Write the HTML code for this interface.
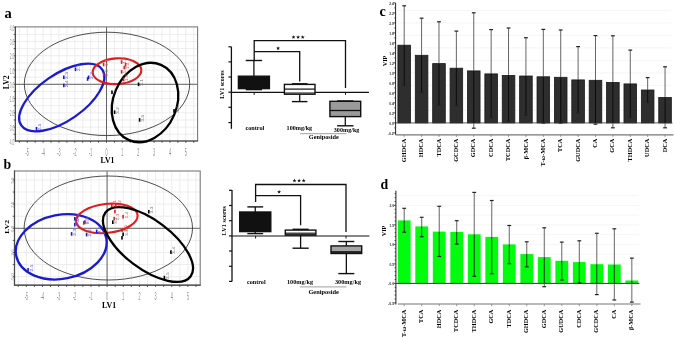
<!DOCTYPE html>
<html><head><meta charset="utf-8"><title>figure</title>
<style>html,body{margin:0;padding:0;background:#fff;width:675px;height:338px;overflow:hidden}
</style></head>
<body>
<svg width="675" height="338" viewBox="0 0 675 338" style="display:block;font-family:'Liberation Serif', serif;will-change:transform">
<rect width="675" height="338" fill="#fff"/>
<text x="4.60" y="17.60" font-size="14.5" font-weight="bold" text-anchor="start" fill="#000">a</text>
<text x="3.60" y="168.80" font-size="13.8" font-weight="bold" text-anchor="start" fill="#000">b</text>
<text x="379.40" y="15.50" font-size="14.2" font-weight="bold" text-anchor="start" fill="#000">c</text>
<text x="380.60" y="189.10" font-size="13.8" font-weight="bold" text-anchor="start" fill="#000">d</text>
<line x1="19.33" y1="26.90" x2="19.33" y2="141.00" stroke="#e8e8e8" stroke-width="0.8"/>
<line x1="27.25" y1="26.90" x2="27.25" y2="141.00" stroke="#e8e8e8" stroke-width="0.8"/>
<line x1="35.17" y1="26.90" x2="35.17" y2="141.00" stroke="#e8e8e8" stroke-width="0.8"/>
<line x1="43.10" y1="26.90" x2="43.10" y2="141.00" stroke="#e8e8e8" stroke-width="0.8"/>
<line x1="51.02" y1="26.90" x2="51.02" y2="141.00" stroke="#e8e8e8" stroke-width="0.8"/>
<line x1="58.95" y1="26.90" x2="58.95" y2="141.00" stroke="#e8e8e8" stroke-width="0.8"/>
<line x1="66.88" y1="26.90" x2="66.88" y2="141.00" stroke="#e8e8e8" stroke-width="0.8"/>
<line x1="74.80" y1="26.90" x2="74.80" y2="141.00" stroke="#e8e8e8" stroke-width="0.8"/>
<line x1="82.72" y1="26.90" x2="82.72" y2="141.00" stroke="#e8e8e8" stroke-width="0.8"/>
<line x1="90.65" y1="26.90" x2="90.65" y2="141.00" stroke="#e8e8e8" stroke-width="0.8"/>
<line x1="98.58" y1="26.90" x2="98.58" y2="141.00" stroke="#e8e8e8" stroke-width="0.8"/>
<line x1="106.50" y1="26.90" x2="106.50" y2="141.00" stroke="#e8e8e8" stroke-width="0.8"/>
<line x1="114.42" y1="26.90" x2="114.42" y2="141.00" stroke="#e8e8e8" stroke-width="0.8"/>
<line x1="122.35" y1="26.90" x2="122.35" y2="141.00" stroke="#e8e8e8" stroke-width="0.8"/>
<line x1="130.28" y1="26.90" x2="130.28" y2="141.00" stroke="#e8e8e8" stroke-width="0.8"/>
<line x1="138.20" y1="26.90" x2="138.20" y2="141.00" stroke="#e8e8e8" stroke-width="0.8"/>
<line x1="146.12" y1="26.90" x2="146.12" y2="141.00" stroke="#e8e8e8" stroke-width="0.8"/>
<line x1="154.05" y1="26.90" x2="154.05" y2="141.00" stroke="#e8e8e8" stroke-width="0.8"/>
<line x1="161.97" y1="26.90" x2="161.97" y2="141.00" stroke="#e8e8e8" stroke-width="0.8"/>
<line x1="169.90" y1="26.90" x2="169.90" y2="141.00" stroke="#e8e8e8" stroke-width="0.8"/>
<line x1="177.82" y1="26.90" x2="177.82" y2="141.00" stroke="#e8e8e8" stroke-width="0.8"/>
<line x1="185.75" y1="26.90" x2="185.75" y2="141.00" stroke="#e8e8e8" stroke-width="0.8"/>
<line x1="193.68" y1="26.90" x2="193.68" y2="141.00" stroke="#e8e8e8" stroke-width="0.8"/>
<line x1="15.40" y1="134.21" x2="197.60" y2="134.21" stroke="#e8e8e8" stroke-width="0.8"/>
<line x1="15.40" y1="127.08" x2="197.60" y2="127.08" stroke="#e8e8e8" stroke-width="0.8"/>
<line x1="15.40" y1="119.95" x2="197.60" y2="119.95" stroke="#e8e8e8" stroke-width="0.8"/>
<line x1="15.40" y1="112.82" x2="197.60" y2="112.82" stroke="#e8e8e8" stroke-width="0.8"/>
<line x1="15.40" y1="105.69" x2="197.60" y2="105.69" stroke="#e8e8e8" stroke-width="0.8"/>
<line x1="15.40" y1="98.56" x2="197.60" y2="98.56" stroke="#e8e8e8" stroke-width="0.8"/>
<line x1="15.40" y1="91.43" x2="197.60" y2="91.43" stroke="#e8e8e8" stroke-width="0.8"/>
<line x1="15.40" y1="84.30" x2="197.60" y2="84.30" stroke="#e8e8e8" stroke-width="0.8"/>
<line x1="15.40" y1="77.17" x2="197.60" y2="77.17" stroke="#e8e8e8" stroke-width="0.8"/>
<line x1="15.40" y1="70.04" x2="197.60" y2="70.04" stroke="#e8e8e8" stroke-width="0.8"/>
<line x1="15.40" y1="62.91" x2="197.60" y2="62.91" stroke="#e8e8e8" stroke-width="0.8"/>
<line x1="15.40" y1="55.78" x2="197.60" y2="55.78" stroke="#e8e8e8" stroke-width="0.8"/>
<line x1="15.40" y1="48.65" x2="197.60" y2="48.65" stroke="#e8e8e8" stroke-width="0.8"/>
<line x1="15.40" y1="41.52" x2="197.60" y2="41.52" stroke="#e8e8e8" stroke-width="0.8"/>
<line x1="15.40" y1="34.39" x2="197.60" y2="34.39" stroke="#e8e8e8" stroke-width="0.8"/>
<line x1="106.50" y1="26.90" x2="106.50" y2="141.00" stroke="#555" stroke-width="0.9"/>
<line x1="15.40" y1="84.30" x2="197.60" y2="84.30" stroke="#555" stroke-width="0.9"/>
<rect x="15.40" y="26.90" width="182.20" height="114.10" fill="none" stroke="#7a7a7a" stroke-width="1.1"/>
<line x1="15.40" y1="26.40" x2="15.40" y2="141.50" stroke="#4a4a4a" stroke-width="1.2"/>
<line x1="14.90" y1="141.00" x2="198.10" y2="141.00" stroke="#4a4a4a" stroke-width="1.2"/>
<line x1="19.33" y1="141.00" x2="19.33" y2="142.80" stroke="#333" stroke-width="0.8"/>
<line x1="27.25" y1="141.00" x2="27.25" y2="142.80" stroke="#333" stroke-width="0.8"/>
<line x1="35.17" y1="141.00" x2="35.17" y2="142.80" stroke="#333" stroke-width="0.8"/>
<line x1="43.10" y1="141.00" x2="43.10" y2="142.80" stroke="#333" stroke-width="0.8"/>
<line x1="51.02" y1="141.00" x2="51.02" y2="142.80" stroke="#333" stroke-width="0.8"/>
<line x1="58.95" y1="141.00" x2="58.95" y2="142.80" stroke="#333" stroke-width="0.8"/>
<line x1="66.88" y1="141.00" x2="66.88" y2="142.80" stroke="#333" stroke-width="0.8"/>
<line x1="74.80" y1="141.00" x2="74.80" y2="142.80" stroke="#333" stroke-width="0.8"/>
<line x1="82.72" y1="141.00" x2="82.72" y2="142.80" stroke="#333" stroke-width="0.8"/>
<line x1="90.65" y1="141.00" x2="90.65" y2="142.80" stroke="#333" stroke-width="0.8"/>
<line x1="98.58" y1="141.00" x2="98.58" y2="142.80" stroke="#333" stroke-width="0.8"/>
<line x1="106.50" y1="141.00" x2="106.50" y2="142.80" stroke="#333" stroke-width="0.8"/>
<line x1="114.42" y1="141.00" x2="114.42" y2="142.80" stroke="#333" stroke-width="0.8"/>
<line x1="122.35" y1="141.00" x2="122.35" y2="142.80" stroke="#333" stroke-width="0.8"/>
<line x1="130.28" y1="141.00" x2="130.28" y2="142.80" stroke="#333" stroke-width="0.8"/>
<line x1="138.20" y1="141.00" x2="138.20" y2="142.80" stroke="#333" stroke-width="0.8"/>
<line x1="146.12" y1="141.00" x2="146.12" y2="142.80" stroke="#333" stroke-width="0.8"/>
<line x1="154.05" y1="141.00" x2="154.05" y2="142.80" stroke="#333" stroke-width="0.8"/>
<line x1="161.97" y1="141.00" x2="161.97" y2="142.80" stroke="#333" stroke-width="0.8"/>
<line x1="169.90" y1="141.00" x2="169.90" y2="142.80" stroke="#333" stroke-width="0.8"/>
<line x1="177.82" y1="141.00" x2="177.82" y2="142.80" stroke="#333" stroke-width="0.8"/>
<line x1="185.75" y1="141.00" x2="185.75" y2="142.80" stroke="#333" stroke-width="0.8"/>
<line x1="193.68" y1="141.00" x2="193.68" y2="142.80" stroke="#333" stroke-width="0.8"/>
<line x1="13.60" y1="134.21" x2="15.40" y2="134.21" stroke="#333" stroke-width="0.8"/>
<line x1="13.60" y1="127.08" x2="15.40" y2="127.08" stroke="#333" stroke-width="0.8"/>
<line x1="13.60" y1="119.95" x2="15.40" y2="119.95" stroke="#333" stroke-width="0.8"/>
<line x1="13.60" y1="112.82" x2="15.40" y2="112.82" stroke="#333" stroke-width="0.8"/>
<line x1="13.60" y1="105.69" x2="15.40" y2="105.69" stroke="#333" stroke-width="0.8"/>
<line x1="13.60" y1="98.56" x2="15.40" y2="98.56" stroke="#333" stroke-width="0.8"/>
<line x1="13.60" y1="91.43" x2="15.40" y2="91.43" stroke="#333" stroke-width="0.8"/>
<line x1="13.60" y1="84.30" x2="15.40" y2="84.30" stroke="#333" stroke-width="0.8"/>
<line x1="13.60" y1="77.17" x2="15.40" y2="77.17" stroke="#333" stroke-width="0.8"/>
<line x1="13.60" y1="70.04" x2="15.40" y2="70.04" stroke="#333" stroke-width="0.8"/>
<line x1="13.60" y1="62.91" x2="15.40" y2="62.91" stroke="#333" stroke-width="0.8"/>
<line x1="13.60" y1="55.78" x2="15.40" y2="55.78" stroke="#333" stroke-width="0.8"/>
<line x1="13.60" y1="48.65" x2="15.40" y2="48.65" stroke="#333" stroke-width="0.8"/>
<line x1="13.60" y1="41.52" x2="15.40" y2="41.52" stroke="#333" stroke-width="0.8"/>
<line x1="13.60" y1="34.39" x2="15.40" y2="34.39" stroke="#333" stroke-width="0.8"/>
<line x1="13.60" y1="27.26" x2="15.40" y2="27.26" stroke="#333" stroke-width="0.8"/>
<text transform="translate(27.25 155.80) scale(0.36 1)" font-size="10.2" text-anchor="middle" fill="#8a8a8a" font-family="'Liberation Sans', sans-serif">-5</text>
<text transform="translate(43.10 155.80) scale(0.36 1)" font-size="10.2" text-anchor="middle" fill="#8a8a8a" font-family="'Liberation Sans', sans-serif">-4</text>
<text transform="translate(58.95 155.80) scale(0.36 1)" font-size="10.2" text-anchor="middle" fill="#8a8a8a" font-family="'Liberation Sans', sans-serif">-3</text>
<text transform="translate(74.80 155.80) scale(0.36 1)" font-size="10.2" text-anchor="middle" fill="#8a8a8a" font-family="'Liberation Sans', sans-serif">-2</text>
<text transform="translate(90.65 155.80) scale(0.36 1)" font-size="10.2" text-anchor="middle" fill="#8a8a8a" font-family="'Liberation Sans', sans-serif">-1</text>
<text transform="translate(106.50 155.80) scale(0.36 1)" font-size="10.2" text-anchor="middle" fill="#8a8a8a" font-family="'Liberation Sans', sans-serif">0</text>
<text transform="translate(122.35 155.80) scale(0.36 1)" font-size="10.2" text-anchor="middle" fill="#8a8a8a" font-family="'Liberation Sans', sans-serif">1</text>
<text transform="translate(138.20 155.80) scale(0.36 1)" font-size="10.2" text-anchor="middle" fill="#8a8a8a" font-family="'Liberation Sans', sans-serif">2</text>
<text transform="translate(154.05 155.80) scale(0.36 1)" font-size="10.2" text-anchor="middle" fill="#8a8a8a" font-family="'Liberation Sans', sans-serif">3</text>
<text transform="translate(169.90 155.80) scale(0.36 1)" font-size="10.2" text-anchor="middle" fill="#8a8a8a" font-family="'Liberation Sans', sans-serif">4</text>
<text transform="translate(185.75 155.80) scale(0.36 1)" font-size="10.2" text-anchor="middle" fill="#8a8a8a" font-family="'Liberation Sans', sans-serif">5</text>
<text transform="translate(14.40 30.86) scale(0.39 1)" font-size="8.4" text-anchor="end" fill="#999" font-family="'Liberation Sans', sans-serif">4.0</text>
<text transform="translate(14.40 45.12) scale(0.39 1)" font-size="8.4" text-anchor="end" fill="#999" font-family="'Liberation Sans', sans-serif">3.0</text>
<text transform="translate(14.40 59.38) scale(0.39 1)" font-size="8.4" text-anchor="end" fill="#999" font-family="'Liberation Sans', sans-serif">2.0</text>
<text transform="translate(14.40 73.64) scale(0.39 1)" font-size="8.4" text-anchor="end" fill="#999" font-family="'Liberation Sans', sans-serif">1.0</text>
<text transform="translate(14.40 87.90) scale(0.39 1)" font-size="8.4" text-anchor="end" fill="#999" font-family="'Liberation Sans', sans-serif">0.0</text>
<text transform="translate(14.40 102.16) scale(0.39 1)" font-size="8.4" text-anchor="end" fill="#999" font-family="'Liberation Sans', sans-serif">-1.0</text>
<text transform="translate(14.40 116.42) scale(0.39 1)" font-size="8.4" text-anchor="end" fill="#999" font-family="'Liberation Sans', sans-serif">-2.0</text>
<text transform="translate(14.40 130.68) scale(0.39 1)" font-size="8.4" text-anchor="end" fill="#999" font-family="'Liberation Sans', sans-serif">-3.0</text>
<text transform="translate(14.40 144.94) scale(0.39 1)" font-size="8.4" text-anchor="end" fill="#999" font-family="'Liberation Sans', sans-serif">-4.0</text>
<ellipse cx="107.00" cy="83.90" rx="82.70" ry="51.70" transform="rotate(0 107.00 83.90)" fill="none" stroke="#3a3a3a" stroke-width="0.9"/>
<ellipse cx="61.80" cy="97.50" rx="49.20" ry="23.20" transform="rotate(-34.6 61.80 97.50)" fill="none" stroke="#1a1ad0" stroke-width="2.3"/>
<ellipse cx="117.00" cy="71.20" rx="24.35" ry="12.85" transform="rotate(-3.0 117.00 71.20)" fill="none" stroke="#e21b1b" stroke-width="2.1"/>
<ellipse cx="145.00" cy="102.50" rx="40.90" ry="31.70" transform="rotate(-67.0 145.00 102.50)" fill="none" stroke="#000" stroke-width="2.3"/>
<text x="107.40" y="162.90" font-size="7.9" font-weight="bold" text-anchor="middle" fill="#000" textLength="13.80" lengthAdjust="spacingAndGlyphs">LV1</text>
<text x="8.60" y="82.30" font-size="7.9" font-weight="bold" text-anchor="middle" fill="#000" transform="rotate(-90 8.60 82.30)" textLength="13.80" lengthAdjust="spacingAndGlyphs">LV2</text>
<rect x="74.70" y="67.50" width="1.60" height="3.60" fill="#1a1ad0" stroke="none" stroke-width="1"/>
<text x="80.10" y="71.10" font-size="4.4" font-weight="normal" text-anchor="start" fill="#5a5ae0" transform="rotate(-90 80.10 71.10)" textLength="7.00" lengthAdjust="spacingAndGlyphs" font-family="'Liberation Sans', sans-serif">2-1</text>
<rect x="63.00" y="75.50" width="1.60" height="3.60" fill="#1a1ad0" stroke="none" stroke-width="1"/>
<text x="68.40" y="79.10" font-size="4.4" font-weight="normal" text-anchor="start" fill="#5a5ae0" transform="rotate(-90 68.40 79.10)" textLength="7.00" lengthAdjust="spacingAndGlyphs" font-family="'Liberation Sans', sans-serif">2-3</text>
<rect x="63.00" y="83.60" width="1.60" height="3.60" fill="#1a1ad0" stroke="none" stroke-width="1"/>
<text x="68.40" y="87.20" font-size="4.4" font-weight="normal" text-anchor="start" fill="#5a5ae0" transform="rotate(-90 68.40 87.20)" textLength="7.00" lengthAdjust="spacingAndGlyphs" font-family="'Liberation Sans', sans-serif">2-4</text>
<rect x="87.80" y="75.50" width="1.60" height="3.60" fill="#1a1ad0" stroke="none" stroke-width="1"/>
<text x="93.20" y="79.10" font-size="4.4" font-weight="normal" text-anchor="start" fill="#5a5ae0" transform="rotate(-90 93.20 79.10)" textLength="7.00" lengthAdjust="spacingAndGlyphs" font-family="'Liberation Sans', sans-serif">2-2</text>
<rect x="86.80" y="77.20" width="1.60" height="3.60" fill="#1a1ad0" stroke="none" stroke-width="1"/>
<rect x="35.70" y="127.00" width="1.60" height="3.60" fill="#1a1ad0" stroke="none" stroke-width="1"/>
<text x="41.10" y="130.60" font-size="4.4" font-weight="normal" text-anchor="start" fill="#5a5ae0" transform="rotate(-90 41.10 130.60)" textLength="7.00" lengthAdjust="spacingAndGlyphs" font-family="'Liberation Sans', sans-serif">2-5</text>
<rect x="102.80" y="62.70" width="1.60" height="3.60" fill="#e21b1b" stroke="none" stroke-width="1"/>
<text x="108.20" y="66.30" font-size="4.4" font-weight="normal" text-anchor="start" fill="#e86060" transform="rotate(-90 108.20 66.30)" textLength="7.00" lengthAdjust="spacingAndGlyphs" font-family="'Liberation Sans', sans-serif">1-1</text>
<rect x="102.80" y="72.80" width="1.60" height="3.60" fill="#e21b1b" stroke="none" stroke-width="1"/>
<text x="108.20" y="76.40" font-size="4.4" font-weight="normal" text-anchor="start" fill="#e86060" transform="rotate(-90 108.20 76.40)" textLength="7.00" lengthAdjust="spacingAndGlyphs" font-family="'Liberation Sans', sans-serif">1-2</text>
<rect x="120.80" y="60.20" width="1.60" height="3.60" fill="#e21b1b" stroke="none" stroke-width="1"/>
<text x="126.20" y="63.80" font-size="4.4" font-weight="normal" text-anchor="start" fill="#e86060" transform="rotate(-90 126.20 63.80)" textLength="7.00" lengthAdjust="spacingAndGlyphs" font-family="'Liberation Sans', sans-serif">1-3</text>
<rect x="123.50" y="65.70" width="1.60" height="3.60" fill="#e21b1b" stroke="none" stroke-width="1"/>
<text x="128.90" y="69.30" font-size="4.4" font-weight="normal" text-anchor="start" fill="#e86060" transform="rotate(-90 128.90 69.30)" textLength="7.00" lengthAdjust="spacingAndGlyphs" font-family="'Liberation Sans', sans-serif">1-4</text>
<rect x="120.80" y="70.00" width="1.60" height="3.60" fill="#e21b1b" stroke="none" stroke-width="1"/>
<text x="126.20" y="73.60" font-size="4.4" font-weight="normal" text-anchor="start" fill="#e86060" transform="rotate(-90 126.20 73.60)" textLength="7.00" lengthAdjust="spacingAndGlyphs" font-family="'Liberation Sans', sans-serif">1-5</text>
<rect x="124.80" y="63.00" width="1.60" height="3.60" fill="#e21b1b" stroke="none" stroke-width="1"/>
<rect x="122.80" y="77.70" width="1.60" height="3.60" fill="#e21b1b" stroke="none" stroke-width="1"/>
<text x="128.20" y="81.30" font-size="4.4" font-weight="normal" text-anchor="start" fill="#e86060" transform="rotate(-90 128.20 81.30)" textLength="7.00" lengthAdjust="spacingAndGlyphs" font-family="'Liberation Sans', sans-serif">1-6</text>
<rect x="137.80" y="82.50" width="1.60" height="3.60" fill="#000" stroke="none" stroke-width="1"/>
<text x="143.20" y="86.10" font-size="4.4" font-weight="normal" text-anchor="start" fill="#777" transform="rotate(-90 143.20 86.10)" textLength="7.00" lengthAdjust="spacingAndGlyphs" font-family="'Liberation Sans', sans-serif">3-1</text>
<rect x="111.20" y="90.50" width="1.60" height="3.60" fill="#000" stroke="none" stroke-width="1"/>
<rect x="113.80" y="110.40" width="1.60" height="3.60" fill="#000" stroke="none" stroke-width="1"/>
<text x="119.20" y="114.00" font-size="4.4" font-weight="normal" text-anchor="start" fill="#777" transform="rotate(-90 119.20 114.00)" textLength="7.00" lengthAdjust="spacingAndGlyphs" font-family="'Liberation Sans', sans-serif">3-2</text>
<rect x="138.80" y="118.10" width="1.60" height="3.60" fill="#000" stroke="none" stroke-width="1"/>
<text x="144.20" y="121.70" font-size="4.4" font-weight="normal" text-anchor="start" fill="#777" transform="rotate(-90 144.20 121.70)" textLength="7.00" lengthAdjust="spacingAndGlyphs" font-family="'Liberation Sans', sans-serif">3-5</text>
<rect x="173.20" y="109.10" width="1.60" height="3.60" fill="#000" stroke="none" stroke-width="1"/>
<text x="178.60" y="112.70" font-size="4.4" font-weight="normal" text-anchor="start" fill="#777" transform="rotate(-90 178.60 112.70)" textLength="7.00" lengthAdjust="spacingAndGlyphs" font-family="'Liberation Sans', sans-serif">3-4</text>
<line x1="18.22" y1="171.00" x2="18.22" y2="285.20" stroke="#e8e8e8" stroke-width="0.8"/>
<line x1="26.30" y1="171.00" x2="26.30" y2="285.20" stroke="#e8e8e8" stroke-width="0.8"/>
<line x1="34.38" y1="171.00" x2="34.38" y2="285.20" stroke="#e8e8e8" stroke-width="0.8"/>
<line x1="42.46" y1="171.00" x2="42.46" y2="285.20" stroke="#e8e8e8" stroke-width="0.8"/>
<line x1="50.54" y1="171.00" x2="50.54" y2="285.20" stroke="#e8e8e8" stroke-width="0.8"/>
<line x1="58.62" y1="171.00" x2="58.62" y2="285.20" stroke="#e8e8e8" stroke-width="0.8"/>
<line x1="66.70" y1="171.00" x2="66.70" y2="285.20" stroke="#e8e8e8" stroke-width="0.8"/>
<line x1="74.78" y1="171.00" x2="74.78" y2="285.20" stroke="#e8e8e8" stroke-width="0.8"/>
<line x1="82.86" y1="171.00" x2="82.86" y2="285.20" stroke="#e8e8e8" stroke-width="0.8"/>
<line x1="90.94" y1="171.00" x2="90.94" y2="285.20" stroke="#e8e8e8" stroke-width="0.8"/>
<line x1="99.02" y1="171.00" x2="99.02" y2="285.20" stroke="#e8e8e8" stroke-width="0.8"/>
<line x1="107.10" y1="171.00" x2="107.10" y2="285.20" stroke="#e8e8e8" stroke-width="0.8"/>
<line x1="115.18" y1="171.00" x2="115.18" y2="285.20" stroke="#e8e8e8" stroke-width="0.8"/>
<line x1="123.26" y1="171.00" x2="123.26" y2="285.20" stroke="#e8e8e8" stroke-width="0.8"/>
<line x1="131.34" y1="171.00" x2="131.34" y2="285.20" stroke="#e8e8e8" stroke-width="0.8"/>
<line x1="139.42" y1="171.00" x2="139.42" y2="285.20" stroke="#e8e8e8" stroke-width="0.8"/>
<line x1="147.50" y1="171.00" x2="147.50" y2="285.20" stroke="#e8e8e8" stroke-width="0.8"/>
<line x1="155.58" y1="171.00" x2="155.58" y2="285.20" stroke="#e8e8e8" stroke-width="0.8"/>
<line x1="163.66" y1="171.00" x2="163.66" y2="285.20" stroke="#e8e8e8" stroke-width="0.8"/>
<line x1="171.74" y1="171.00" x2="171.74" y2="285.20" stroke="#e8e8e8" stroke-width="0.8"/>
<line x1="179.82" y1="171.00" x2="179.82" y2="285.20" stroke="#e8e8e8" stroke-width="0.8"/>
<line x1="187.90" y1="171.00" x2="187.90" y2="285.20" stroke="#e8e8e8" stroke-width="0.8"/>
<line x1="195.98" y1="171.00" x2="195.98" y2="285.20" stroke="#e8e8e8" stroke-width="0.8"/>
<line x1="14.50" y1="276.65" x2="200.20" y2="276.65" stroke="#e8e8e8" stroke-width="0.8"/>
<line x1="14.50" y1="264.56" x2="200.20" y2="264.56" stroke="#e8e8e8" stroke-width="0.8"/>
<line x1="14.50" y1="252.48" x2="200.20" y2="252.48" stroke="#e8e8e8" stroke-width="0.8"/>
<line x1="14.50" y1="240.39" x2="200.20" y2="240.39" stroke="#e8e8e8" stroke-width="0.8"/>
<line x1="14.50" y1="228.30" x2="200.20" y2="228.30" stroke="#e8e8e8" stroke-width="0.8"/>
<line x1="14.50" y1="216.21" x2="200.20" y2="216.21" stroke="#e8e8e8" stroke-width="0.8"/>
<line x1="14.50" y1="204.12" x2="200.20" y2="204.12" stroke="#e8e8e8" stroke-width="0.8"/>
<line x1="14.50" y1="192.04" x2="200.20" y2="192.04" stroke="#e8e8e8" stroke-width="0.8"/>
<line x1="14.50" y1="179.95" x2="200.20" y2="179.95" stroke="#e8e8e8" stroke-width="0.8"/>
<line x1="107.10" y1="171.00" x2="107.10" y2="285.20" stroke="#555" stroke-width="0.9"/>
<line x1="14.50" y1="228.30" x2="200.20" y2="228.30" stroke="#555" stroke-width="0.9"/>
<rect x="14.50" y="171.00" width="185.70" height="114.20" fill="none" stroke="#7a7a7a" stroke-width="1.1"/>
<line x1="14.50" y1="170.50" x2="14.50" y2="285.70" stroke="#4a4a4a" stroke-width="1.2"/>
<line x1="14.00" y1="285.20" x2="200.70" y2="285.20" stroke="#4a4a4a" stroke-width="1.2"/>
<line x1="18.22" y1="285.20" x2="18.22" y2="287.00" stroke="#333" stroke-width="0.8"/>
<line x1="26.30" y1="285.20" x2="26.30" y2="287.00" stroke="#333" stroke-width="0.8"/>
<line x1="34.38" y1="285.20" x2="34.38" y2="287.00" stroke="#333" stroke-width="0.8"/>
<line x1="42.46" y1="285.20" x2="42.46" y2="287.00" stroke="#333" stroke-width="0.8"/>
<line x1="50.54" y1="285.20" x2="50.54" y2="287.00" stroke="#333" stroke-width="0.8"/>
<line x1="58.62" y1="285.20" x2="58.62" y2="287.00" stroke="#333" stroke-width="0.8"/>
<line x1="66.70" y1="285.20" x2="66.70" y2="287.00" stroke="#333" stroke-width="0.8"/>
<line x1="74.78" y1="285.20" x2="74.78" y2="287.00" stroke="#333" stroke-width="0.8"/>
<line x1="82.86" y1="285.20" x2="82.86" y2="287.00" stroke="#333" stroke-width="0.8"/>
<line x1="90.94" y1="285.20" x2="90.94" y2="287.00" stroke="#333" stroke-width="0.8"/>
<line x1="99.02" y1="285.20" x2="99.02" y2="287.00" stroke="#333" stroke-width="0.8"/>
<line x1="107.10" y1="285.20" x2="107.10" y2="287.00" stroke="#333" stroke-width="0.8"/>
<line x1="115.18" y1="285.20" x2="115.18" y2="287.00" stroke="#333" stroke-width="0.8"/>
<line x1="123.26" y1="285.20" x2="123.26" y2="287.00" stroke="#333" stroke-width="0.8"/>
<line x1="131.34" y1="285.20" x2="131.34" y2="287.00" stroke="#333" stroke-width="0.8"/>
<line x1="139.42" y1="285.20" x2="139.42" y2="287.00" stroke="#333" stroke-width="0.8"/>
<line x1="147.50" y1="285.20" x2="147.50" y2="287.00" stroke="#333" stroke-width="0.8"/>
<line x1="155.58" y1="285.20" x2="155.58" y2="287.00" stroke="#333" stroke-width="0.8"/>
<line x1="163.66" y1="285.20" x2="163.66" y2="287.00" stroke="#333" stroke-width="0.8"/>
<line x1="171.74" y1="285.20" x2="171.74" y2="287.00" stroke="#333" stroke-width="0.8"/>
<line x1="179.82" y1="285.20" x2="179.82" y2="287.00" stroke="#333" stroke-width="0.8"/>
<line x1="187.90" y1="285.20" x2="187.90" y2="287.00" stroke="#333" stroke-width="0.8"/>
<line x1="195.98" y1="285.20" x2="195.98" y2="287.00" stroke="#333" stroke-width="0.8"/>
<line x1="12.70" y1="276.65" x2="14.50" y2="276.65" stroke="#333" stroke-width="0.8"/>
<line x1="12.70" y1="264.56" x2="14.50" y2="264.56" stroke="#333" stroke-width="0.8"/>
<line x1="12.70" y1="252.48" x2="14.50" y2="252.48" stroke="#333" stroke-width="0.8"/>
<line x1="12.70" y1="240.39" x2="14.50" y2="240.39" stroke="#333" stroke-width="0.8"/>
<line x1="12.70" y1="228.30" x2="14.50" y2="228.30" stroke="#333" stroke-width="0.8"/>
<line x1="12.70" y1="216.21" x2="14.50" y2="216.21" stroke="#333" stroke-width="0.8"/>
<line x1="12.70" y1="204.12" x2="14.50" y2="204.12" stroke="#333" stroke-width="0.8"/>
<line x1="12.70" y1="192.04" x2="14.50" y2="192.04" stroke="#333" stroke-width="0.8"/>
<line x1="12.70" y1="179.95" x2="14.50" y2="179.95" stroke="#333" stroke-width="0.8"/>
<text transform="translate(26.30 299.90) scale(0.36 1)" font-size="10.2" text-anchor="middle" fill="#8a8a8a" font-family="'Liberation Sans', sans-serif">-5</text>
<text transform="translate(42.46 299.90) scale(0.36 1)" font-size="10.2" text-anchor="middle" fill="#8a8a8a" font-family="'Liberation Sans', sans-serif">-4</text>
<text transform="translate(58.62 299.90) scale(0.36 1)" font-size="10.2" text-anchor="middle" fill="#8a8a8a" font-family="'Liberation Sans', sans-serif">-3</text>
<text transform="translate(74.78 299.90) scale(0.36 1)" font-size="10.2" text-anchor="middle" fill="#8a8a8a" font-family="'Liberation Sans', sans-serif">-2</text>
<text transform="translate(90.94 299.90) scale(0.36 1)" font-size="10.2" text-anchor="middle" fill="#8a8a8a" font-family="'Liberation Sans', sans-serif">-1</text>
<text transform="translate(107.10 299.90) scale(0.36 1)" font-size="10.2" text-anchor="middle" fill="#8a8a8a" font-family="'Liberation Sans', sans-serif">0</text>
<text transform="translate(123.26 299.90) scale(0.36 1)" font-size="10.2" text-anchor="middle" fill="#8a8a8a" font-family="'Liberation Sans', sans-serif">1</text>
<text transform="translate(139.42 299.90) scale(0.36 1)" font-size="10.2" text-anchor="middle" fill="#8a8a8a" font-family="'Liberation Sans', sans-serif">2</text>
<text transform="translate(155.58 299.90) scale(0.36 1)" font-size="10.2" text-anchor="middle" fill="#8a8a8a" font-family="'Liberation Sans', sans-serif">3</text>
<text transform="translate(171.74 299.90) scale(0.36 1)" font-size="10.2" text-anchor="middle" fill="#8a8a8a" font-family="'Liberation Sans', sans-serif">4</text>
<text transform="translate(187.90 299.90) scale(0.36 1)" font-size="10.2" text-anchor="middle" fill="#8a8a8a" font-family="'Liberation Sans', sans-serif">5</text>
<text x="13.90" y="180.55" font-size="4.0" font-weight="normal" text-anchor="middle" fill="#888" transform="rotate(-90 13.90 180.55)" textLength="6.00" lengthAdjust="spacingAndGlyphs" font-family="'Liberation Sans', sans-serif">5.0</text>
<text x="13.90" y="204.72" font-size="4.0" font-weight="normal" text-anchor="middle" fill="#888" transform="rotate(-90 13.90 204.72)" textLength="6.00" lengthAdjust="spacingAndGlyphs" font-family="'Liberation Sans', sans-serif">2.5</text>
<text x="13.90" y="228.90" font-size="4.0" font-weight="normal" text-anchor="middle" fill="#888" transform="rotate(-90 13.90 228.90)" textLength="6.00" lengthAdjust="spacingAndGlyphs" font-family="'Liberation Sans', sans-serif">0.0</text>
<text x="13.90" y="253.08" font-size="4.0" font-weight="normal" text-anchor="middle" fill="#888" transform="rotate(-90 13.90 253.08)" textLength="8.00" lengthAdjust="spacingAndGlyphs" font-family="'Liberation Sans', sans-serif">-2.5</text>
<text x="13.90" y="277.25" font-size="4.0" font-weight="normal" text-anchor="middle" fill="#888" transform="rotate(-90 13.90 277.25)" textLength="8.00" lengthAdjust="spacingAndGlyphs" font-family="'Liberation Sans', sans-serif">-5.0</text>
<ellipse cx="108.30" cy="228.00" rx="84.20" ry="52.00" transform="rotate(0 108.30 228.00)" fill="none" stroke="#3a3a3a" stroke-width="0.9"/>
<ellipse cx="61.20" cy="246.80" rx="45.90" ry="32.00" transform="rotate(-11.3 61.20 246.80)" fill="none" stroke="#1a1ad0" stroke-width="2.3"/>
<ellipse cx="106.85" cy="218.40" rx="30.90" ry="14.50" transform="rotate(-6.2 106.85 218.40)" fill="none" stroke="#e21b1b" stroke-width="2.1"/>
<ellipse cx="148.00" cy="244.50" rx="53.20" ry="24.30" transform="rotate(36.9 148.00 244.50)" fill="none" stroke="#000" stroke-width="2.3"/>
<text x="109.00" y="308.30" font-size="7.4" font-weight="bold" text-anchor="middle" fill="#000" textLength="14.20" lengthAdjust="spacingAndGlyphs">LV1</text>
<text x="8.90" y="226.90" font-size="7.0" font-weight="bold" text-anchor="middle" fill="#000" transform="rotate(-90 8.90 226.90)" textLength="13.70" lengthAdjust="spacingAndGlyphs">LV2</text>
<rect x="74.00" y="217.00" width="1.60" height="3.60" fill="#1a1ad0" stroke="none" stroke-width="1"/>
<text x="79.40" y="220.60" font-size="4.4" font-weight="normal" text-anchor="start" fill="#5a5ae0" transform="rotate(-90 79.40 220.60)" textLength="7.00" lengthAdjust="spacingAndGlyphs" font-family="'Liberation Sans', sans-serif">2-1</text>
<rect x="74.00" y="222.80" width="1.60" height="3.60" fill="#1a1ad0" stroke="none" stroke-width="1"/>
<text x="79.40" y="226.40" font-size="4.4" font-weight="normal" text-anchor="start" fill="#5a5ae0" transform="rotate(-90 79.40 226.40)" textLength="7.00" lengthAdjust="spacingAndGlyphs" font-family="'Liberation Sans', sans-serif">2-2</text>
<rect x="70.80" y="232.10" width="1.60" height="3.60" fill="#1a1ad0" stroke="none" stroke-width="1"/>
<text x="76.20" y="235.70" font-size="4.4" font-weight="normal" text-anchor="start" fill="#5a5ae0" transform="rotate(-90 76.20 235.70)" textLength="7.00" lengthAdjust="spacingAndGlyphs" font-family="'Liberation Sans', sans-serif">2-3</text>
<rect x="84.10" y="220.30" width="1.60" height="3.60" fill="#1a1ad0" stroke="none" stroke-width="1"/>
<text x="89.50" y="223.90" font-size="4.4" font-weight="normal" text-anchor="start" fill="#5a5ae0" transform="rotate(-90 89.50 223.90)" textLength="7.00" lengthAdjust="spacingAndGlyphs" font-family="'Liberation Sans', sans-serif">2-4</text>
<rect x="85.80" y="232.80" width="1.60" height="3.60" fill="#1a1ad0" stroke="none" stroke-width="1"/>
<text x="91.20" y="236.40" font-size="4.4" font-weight="normal" text-anchor="start" fill="#5a5ae0" transform="rotate(-90 91.20 236.40)" textLength="7.00" lengthAdjust="spacingAndGlyphs" font-family="'Liberation Sans', sans-serif">2-6</text>
<rect x="27.30" y="268.00" width="1.60" height="3.60" fill="#1a1ad0" stroke="none" stroke-width="1"/>
<text x="32.70" y="271.60" font-size="4.4" font-weight="normal" text-anchor="start" fill="#5a5ae0" transform="rotate(-90 32.70 271.60)" textLength="7.00" lengthAdjust="spacingAndGlyphs" font-family="'Liberation Sans', sans-serif">2-5</text>
<rect x="95.90" y="229.60" width="1.60" height="3.60" fill="#1a1ad0" stroke="none" stroke-width="1"/>
<text x="101.30" y="233.20" font-size="4.4" font-weight="normal" text-anchor="start" fill="#5a5ae0" transform="rotate(-90 101.30 233.20)" textLength="7.00" lengthAdjust="spacingAndGlyphs" font-family="'Liberation Sans', sans-serif">2-7</text>
<rect x="111.00" y="203.40" width="1.60" height="3.60" fill="#e21b1b" stroke="none" stroke-width="1"/>
<text x="116.40" y="207.00" font-size="4.4" font-weight="normal" text-anchor="start" fill="#e86060" transform="rotate(-90 116.40 207.00)" textLength="7.00" lengthAdjust="spacingAndGlyphs" font-family="'Liberation Sans', sans-serif">1-1</text>
<rect x="115.10" y="203.40" width="1.60" height="3.60" fill="#e21b1b" stroke="none" stroke-width="1"/>
<text x="120.50" y="207.00" font-size="4.4" font-weight="normal" text-anchor="start" fill="#e86060" transform="rotate(-90 120.50 207.00)" textLength="7.00" lengthAdjust="spacingAndGlyphs" font-family="'Liberation Sans', sans-serif">1-2</text>
<rect x="114.10" y="209.70" width="1.60" height="3.60" fill="#e21b1b" stroke="none" stroke-width="1"/>
<rect x="113.40" y="216.90" width="1.60" height="3.60" fill="#e21b1b" stroke="none" stroke-width="1"/>
<text x="118.80" y="220.50" font-size="4.4" font-weight="normal" text-anchor="start" fill="#e86060" transform="rotate(-90 118.80 220.50)" textLength="7.00" lengthAdjust="spacingAndGlyphs" font-family="'Liberation Sans', sans-serif">1-3</text>
<rect x="122.30" y="214.90" width="1.60" height="3.60" fill="#e21b1b" stroke="none" stroke-width="1"/>
<text x="127.70" y="218.50" font-size="4.4" font-weight="normal" text-anchor="start" fill="#e86060" transform="rotate(-90 127.70 218.50)" textLength="7.00" lengthAdjust="spacingAndGlyphs" font-family="'Liberation Sans', sans-serif">1-4</text>
<rect x="83.00" y="221.10" width="1.60" height="3.60" fill="#e21b1b" stroke="none" stroke-width="1"/>
<text x="88.40" y="224.70" font-size="4.4" font-weight="normal" text-anchor="start" fill="#e86060" transform="rotate(-90 88.40 224.70)" textLength="7.00" lengthAdjust="spacingAndGlyphs" font-family="'Liberation Sans', sans-serif">1-6</text>
<rect x="121.30" y="228.30" width="1.60" height="3.60" fill="#e21b1b" stroke="none" stroke-width="1"/>
<text x="126.70" y="231.90" font-size="4.4" font-weight="normal" text-anchor="start" fill="#e86060" transform="rotate(-90 126.70 231.90)" textLength="7.00" lengthAdjust="spacingAndGlyphs" font-family="'Liberation Sans', sans-serif">1-5</text>
<rect x="112.00" y="220.40" width="1.60" height="3.60" fill="#000" stroke="none" stroke-width="1"/>
<text x="117.40" y="224.00" font-size="4.4" font-weight="normal" text-anchor="start" fill="#777" transform="rotate(-90 117.40 224.00)" textLength="7.00" lengthAdjust="spacingAndGlyphs" font-family="'Liberation Sans', sans-serif">3-1</text>
<rect x="122.30" y="232.50" width="1.60" height="3.60" fill="#000" stroke="none" stroke-width="1"/>
<text x="127.70" y="236.10" font-size="4.4" font-weight="normal" text-anchor="start" fill="#777" transform="rotate(-90 127.70 236.10)" textLength="7.00" lengthAdjust="spacingAndGlyphs" font-family="'Liberation Sans', sans-serif">3-2</text>
<rect x="148.00" y="209.90" width="1.60" height="3.60" fill="#000" stroke="none" stroke-width="1"/>
<text x="153.40" y="213.50" font-size="4.4" font-weight="normal" text-anchor="start" fill="#777" transform="rotate(-90 153.40 213.50)" textLength="7.00" lengthAdjust="spacingAndGlyphs" font-family="'Liberation Sans', sans-serif">3-3</text>
<rect x="170.10" y="250.30" width="1.60" height="3.60" fill="#000" stroke="none" stroke-width="1"/>
<text x="175.50" y="253.90" font-size="4.4" font-weight="normal" text-anchor="start" fill="#777" transform="rotate(-90 175.50 253.90)" textLength="7.00" lengthAdjust="spacingAndGlyphs" font-family="'Liberation Sans', sans-serif">3-4</text>
<rect x="163.60" y="275.80" width="1.60" height="3.60" fill="#000" stroke="none" stroke-width="1"/>
<text x="169.00" y="279.40" font-size="4.4" font-weight="normal" text-anchor="start" fill="#777" transform="rotate(-90 169.00 279.40)" textLength="7.00" lengthAdjust="spacingAndGlyphs" font-family="'Liberation Sans', sans-serif">3-5</text>
<rect x="121.20" y="236.00" width="1.60" height="3.60" fill="#000" stroke="none" stroke-width="1"/>
<line x1="231.40" y1="46.80" x2="231.40" y2="128.80" stroke="#111" stroke-width="1.3"/>
<line x1="228.40" y1="46.80" x2="231.40" y2="46.80" stroke="#111" stroke-width="1.2"/>
<line x1="228.40" y1="61.90" x2="231.40" y2="61.90" stroke="#111" stroke-width="1.2"/>
<line x1="228.40" y1="77.00" x2="231.40" y2="77.00" stroke="#111" stroke-width="1.2"/>
<line x1="228.40" y1="92.20" x2="231.40" y2="92.20" stroke="#111" stroke-width="1.2"/>
<line x1="228.40" y1="107.30" x2="231.40" y2="107.30" stroke="#111" stroke-width="1.2"/>
<line x1="228.40" y1="122.60" x2="231.40" y2="122.60" stroke="#111" stroke-width="1.2"/>
<line x1="231.40" y1="92.30" x2="369.00" y2="92.30" stroke="#111" stroke-width="1.2"/>
<text x="224.40" y="84.60" font-size="6" font-weight="bold" text-anchor="middle" fill="#000" transform="rotate(-90 224.40 84.60)" textLength="28.40" lengthAdjust="spacingAndGlyphs">LV1 scores</text>
<line x1="253.90" y1="60.50" x2="253.90" y2="76.20" stroke="#111" stroke-width="1.3"/>
<line x1="253.90" y1="88.60" x2="253.90" y2="89.60" stroke="#111" stroke-width="1.3"/>
<line x1="245.70" y1="60.50" x2="262.10" y2="60.50" stroke="#111" stroke-width="1.4"/>
<line x1="245.70" y1="89.60" x2="262.10" y2="89.60" stroke="#111" stroke-width="1.4"/>
<rect x="238.40" y="76.20" width="31.00" height="12.40" fill="#111" stroke="none" stroke-width="1.4"/>
<rect x="238.40" y="76.20" width="31.00" height="12.40" fill="none" stroke="#111" stroke-width="1.4"/>
<line x1="299.70" y1="83.80" x2="299.70" y2="84.40" stroke="#111" stroke-width="1.3"/>
<line x1="299.70" y1="94.20" x2="299.70" y2="101.60" stroke="#111" stroke-width="1.3"/>
<line x1="291.90" y1="83.80" x2="307.50" y2="83.80" stroke="#111" stroke-width="1.4"/>
<line x1="291.90" y1="101.60" x2="307.50" y2="101.60" stroke="#111" stroke-width="1.4"/>
<rect x="284.40" y="84.40" width="30.60" height="9.80" fill="#fff" stroke="none" stroke-width="1.4"/>
<rect x="284.40" y="92.00" width="30.60" height="2.20" fill="#8a8a8a" stroke="none" stroke-width="1"/>
<line x1="284.40" y1="89.10" x2="315.00" y2="89.10" stroke="#111" stroke-width="1.2"/>
<rect x="284.40" y="84.40" width="30.60" height="9.80" fill="none" stroke="#111" stroke-width="1.4"/>
<line x1="345.30" y1="101.00" x2="345.30" y2="101.30" stroke="#111" stroke-width="1.3"/>
<line x1="345.30" y1="116.60" x2="345.30" y2="125.80" stroke="#111" stroke-width="1.3"/>
<line x1="337.10" y1="101.00" x2="353.50" y2="101.00" stroke="#111" stroke-width="1.4"/>
<line x1="337.10" y1="125.80" x2="353.50" y2="125.80" stroke="#111" stroke-width="1.4"/>
<rect x="329.90" y="101.30" width="30.80" height="15.30" fill="#9a9a9a" stroke="none" stroke-width="1.4"/>
<line x1="329.90" y1="110.50" x2="360.70" y2="110.50" stroke="#111" stroke-width="1.3"/>
<rect x="329.90" y="101.30" width="30.80" height="15.30" fill="none" stroke="#111" stroke-width="1.4"/>
<polyline points="254.20,60.50 254.20,40.60 345.50,40.60 345.50,88.00" fill="none" stroke="#111" stroke-width="1.3"/>
<polyline points="254.20,51.60 254.20,51.60 299.70,51.60 299.70,81.40" fill="none" stroke="#111" stroke-width="1.3"/>
<polygon points="293.50,35.15 294.01,36.50 295.45,36.57 294.32,37.47 294.70,38.86 293.50,38.06 292.30,38.86 292.68,37.47 291.55,36.57 292.99,36.50" fill="#111"/>
<polygon points="298.10,35.15 298.61,36.50 300.05,36.57 298.92,37.47 299.30,38.86 298.10,38.06 296.90,38.86 297.28,37.47 296.15,36.57 297.59,36.50" fill="#111"/>
<polygon points="302.70,35.15 303.21,36.50 304.65,36.57 303.52,37.47 303.90,38.86 302.70,38.06 301.50,38.86 301.88,37.47 300.75,36.57 302.19,36.50" fill="#111"/>
<polygon points="278.10,46.25 278.61,47.60 280.05,47.67 278.92,48.57 279.30,49.96 278.10,49.16 276.90,49.96 277.28,48.57 276.15,47.67 277.59,47.60" fill="#111"/>
<text x="254.90" y="130.00" font-size="6.8" font-weight="bold" text-anchor="middle" fill="#000" textLength="18.90" lengthAdjust="spacingAndGlyphs">control</text>
<text x="299.40" y="130.00" font-size="6.8" font-weight="bold" text-anchor="middle" fill="#000" textLength="25.60" lengthAdjust="spacingAndGlyphs">100mg/kg</text>
<text x="346.60" y="132.20" font-size="6.8" font-weight="bold" text-anchor="middle" fill="#000" textLength="25.60" lengthAdjust="spacingAndGlyphs">300mg/kg</text>
<line x1="300.00" y1="133.70" x2="346.50" y2="133.70" stroke="#777" stroke-width="0.7"/>
<text x="323.80" y="139.40" font-size="6.8" font-weight="bold" text-anchor="middle" fill="#000" textLength="29.90" lengthAdjust="spacingAndGlyphs">Geniposide</text>
<line x1="254.20" y1="92.30" x2="254.20" y2="94.80" stroke="#111" stroke-width="1.0"/>
<line x1="345.50" y1="92.30" x2="345.50" y2="94.80" stroke="#111" stroke-width="1.0"/>
<line x1="232.00" y1="190.00" x2="232.00" y2="281.60" stroke="#111" stroke-width="1.3"/>
<line x1="229.00" y1="190.30" x2="232.00" y2="190.30" stroke="#111" stroke-width="1.2"/>
<line x1="229.00" y1="205.50" x2="232.00" y2="205.50" stroke="#111" stroke-width="1.2"/>
<line x1="229.00" y1="220.70" x2="232.00" y2="220.70" stroke="#111" stroke-width="1.2"/>
<line x1="229.00" y1="235.90" x2="232.00" y2="235.90" stroke="#111" stroke-width="1.2"/>
<line x1="229.00" y1="251.00" x2="232.00" y2="251.00" stroke="#111" stroke-width="1.2"/>
<line x1="229.00" y1="266.30" x2="232.00" y2="266.30" stroke="#111" stroke-width="1.2"/>
<line x1="229.00" y1="281.40" x2="232.00" y2="281.40" stroke="#111" stroke-width="1.2"/>
<line x1="232.00" y1="236.00" x2="369.40" y2="236.00" stroke="#111" stroke-width="1.2"/>
<text x="225.60" y="220.70" font-size="6" font-weight="bold" text-anchor="middle" fill="#000" transform="rotate(-90 225.60 220.70)" textLength="29.40" lengthAdjust="spacingAndGlyphs">LV1 scores</text>
<line x1="255.25" y1="206.90" x2="255.25" y2="212.00" stroke="#111" stroke-width="1.3"/>
<line x1="255.25" y1="231.60" x2="255.25" y2="233.60" stroke="#111" stroke-width="1.3"/>
<line x1="247.35" y1="206.90" x2="263.15" y2="206.90" stroke="#111" stroke-width="1.4"/>
<line x1="247.35" y1="233.60" x2="263.15" y2="233.60" stroke="#111" stroke-width="1.4"/>
<rect x="239.70" y="212.00" width="31.10" height="19.60" fill="#111" stroke="none" stroke-width="1.4"/>
<rect x="239.70" y="212.00" width="31.10" height="19.60" fill="none" stroke="#111" stroke-width="1.4"/>
<line x1="300.60" y1="229.30" x2="300.60" y2="230.10" stroke="#111" stroke-width="1.3"/>
<line x1="300.60" y1="235.10" x2="300.60" y2="248.20" stroke="#111" stroke-width="1.3"/>
<line x1="292.50" y1="229.30" x2="308.70" y2="229.30" stroke="#111" stroke-width="1.4"/>
<line x1="292.50" y1="248.20" x2="308.70" y2="248.20" stroke="#111" stroke-width="1.4"/>
<rect x="285.30" y="230.10" width="30.60" height="5.00" fill="#fff" stroke="none" stroke-width="1.4"/>
<rect x="285.30" y="232.50" width="30.60" height="2.60" fill="#4a4a4a" stroke="none" stroke-width="1"/>
<rect x="285.30" y="230.10" width="30.60" height="5.00" fill="none" stroke="#111" stroke-width="1.4"/>
<line x1="346.35" y1="241.50" x2="346.35" y2="245.90" stroke="#111" stroke-width="1.3"/>
<line x1="346.35" y1="253.50" x2="346.35" y2="273.60" stroke="#111" stroke-width="1.3"/>
<line x1="338.35" y1="241.50" x2="354.35" y2="241.50" stroke="#111" stroke-width="1.4"/>
<line x1="338.35" y1="273.60" x2="354.35" y2="273.60" stroke="#111" stroke-width="1.4"/>
<rect x="331.00" y="245.90" width="30.70" height="7.60" fill="#a4a4a4" stroke="none" stroke-width="1.4"/>
<rect x="331.00" y="251.00" width="30.70" height="2.50" fill="#2a2a2a" stroke="none" stroke-width="1"/>
<rect x="331.00" y="245.90" width="30.70" height="7.60" fill="none" stroke="#111" stroke-width="1.4"/>
<polyline points="255.60,202.00 255.60,184.50 346.00,184.50 346.00,232.00" fill="none" stroke="#111" stroke-width="1.3"/>
<polyline points="255.60,195.70 255.60,195.70 300.60,195.70 300.60,225.30" fill="none" stroke="#111" stroke-width="1.3"/>
<polygon points="294.50,178.55 295.01,179.90 296.45,179.97 295.32,180.87 295.70,182.26 294.50,181.46 293.30,182.26 293.68,180.87 292.55,179.97 293.99,179.90" fill="#111"/>
<polygon points="299.10,178.55 299.61,179.90 301.05,179.97 299.92,180.87 300.30,182.26 299.10,181.46 297.90,182.26 298.28,180.87 297.15,179.97 298.59,179.90" fill="#111"/>
<polygon points="303.70,178.55 304.21,179.90 305.65,179.97 304.52,180.87 304.90,182.26 303.70,181.46 302.50,182.26 302.88,180.87 301.75,179.97 303.19,179.90" fill="#111"/>
<polygon points="279.10,189.85 279.61,191.20 281.05,191.27 279.92,192.17 280.30,193.56 279.10,192.76 277.90,193.56 278.28,192.17 277.15,191.27 278.59,191.20" fill="#111"/>
<text x="256.30" y="283.50" font-size="6.8" font-weight="bold" text-anchor="middle" fill="#000" textLength="18.60" lengthAdjust="spacingAndGlyphs">control</text>
<text x="300.00" y="283.80" font-size="6.8" font-weight="bold" text-anchor="middle" fill="#000" textLength="26.00" lengthAdjust="spacingAndGlyphs">100mg/kg</text>
<text x="348.00" y="283.80" font-size="6.8" font-weight="bold" text-anchor="middle" fill="#000" textLength="26.00" lengthAdjust="spacingAndGlyphs">300mg/kg</text>
<line x1="300.00" y1="286.90" x2="346.50" y2="286.90" stroke="#777" stroke-width="0.7"/>
<text x="323.60" y="293.80" font-size="6.8" font-weight="bold" text-anchor="middle" fill="#000" textLength="30.30" lengthAdjust="spacingAndGlyphs">Geniposide</text>
<line x1="255.60" y1="236.00" x2="255.60" y2="238.50" stroke="#111" stroke-width="1.0"/>
<line x1="346.00" y1="236.00" x2="346.00" y2="238.50" stroke="#111" stroke-width="1.0"/>
<line x1="396.60" y1="110.40" x2="671.00" y2="110.40" stroke="#f1f1f1" stroke-width="0.7"/>
<line x1="396.60" y1="97.90" x2="671.00" y2="97.90" stroke="#f1f1f1" stroke-width="0.7"/>
<line x1="396.60" y1="85.40" x2="671.00" y2="85.40" stroke="#f1f1f1" stroke-width="0.7"/>
<line x1="396.60" y1="72.90" x2="671.00" y2="72.90" stroke="#f1f1f1" stroke-width="0.7"/>
<line x1="396.60" y1="60.40" x2="671.00" y2="60.40" stroke="#f1f1f1" stroke-width="0.7"/>
<line x1="396.60" y1="47.90" x2="671.00" y2="47.90" stroke="#f1f1f1" stroke-width="0.7"/>
<line x1="396.60" y1="35.40" x2="671.00" y2="35.40" stroke="#f1f1f1" stroke-width="0.7"/>
<line x1="396.60" y1="22.90" x2="671.00" y2="22.90" stroke="#f1f1f1" stroke-width="0.7"/>
<line x1="396.60" y1="10.40" x2="671.00" y2="10.40" stroke="#f1f1f1" stroke-width="0.7"/>
<rect x="397.90" y="45.20" width="12.60" height="77.70" fill="#2e2e2e" stroke="#1a1a1a" stroke-width="0.8"/>
<rect x="415.29" y="55.30" width="12.60" height="67.60" fill="#2e2e2e" stroke="#1a1a1a" stroke-width="0.8"/>
<rect x="432.68" y="63.60" width="12.60" height="59.30" fill="#2e2e2e" stroke="#1a1a1a" stroke-width="0.8"/>
<rect x="450.07" y="68.20" width="12.60" height="54.70" fill="#2e2e2e" stroke="#1a1a1a" stroke-width="0.8"/>
<rect x="467.46" y="70.90" width="12.60" height="52.00" fill="#2e2e2e" stroke="#1a1a1a" stroke-width="0.8"/>
<rect x="484.85" y="73.90" width="12.60" height="49.00" fill="#2e2e2e" stroke="#1a1a1a" stroke-width="0.8"/>
<rect x="502.24" y="75.40" width="12.60" height="47.50" fill="#2e2e2e" stroke="#1a1a1a" stroke-width="0.8"/>
<rect x="519.63" y="76.00" width="12.60" height="46.90" fill="#2e2e2e" stroke="#1a1a1a" stroke-width="0.8"/>
<rect x="537.02" y="76.80" width="12.60" height="46.10" fill="#2e2e2e" stroke="#1a1a1a" stroke-width="0.8"/>
<rect x="554.41" y="77.30" width="12.60" height="45.60" fill="#2e2e2e" stroke="#1a1a1a" stroke-width="0.8"/>
<rect x="571.80" y="79.90" width="12.60" height="43.00" fill="#2e2e2e" stroke="#1a1a1a" stroke-width="0.8"/>
<rect x="589.19" y="80.30" width="12.60" height="42.60" fill="#2e2e2e" stroke="#1a1a1a" stroke-width="0.8"/>
<rect x="606.58" y="82.40" width="12.60" height="40.50" fill="#2e2e2e" stroke="#1a1a1a" stroke-width="0.8"/>
<rect x="623.97" y="83.90" width="12.60" height="39.00" fill="#2e2e2e" stroke="#1a1a1a" stroke-width="0.8"/>
<rect x="641.36" y="90.00" width="12.60" height="32.90" fill="#2e2e2e" stroke="#1a1a1a" stroke-width="0.8"/>
<rect x="658.75" y="97.50" width="12.60" height="25.40" fill="#2e2e2e" stroke="#1a1a1a" stroke-width="0.8"/>
<line x1="395.60" y1="122.90" x2="672.50" y2="122.90" stroke="#333" stroke-width="0.8"/>
<line x1="404.20" y1="5.80" x2="404.20" y2="45.20" stroke="#555" stroke-width="0.9"/>
<line x1="404.20" y1="45.20" x2="404.20" y2="85.30" stroke="#080808" stroke-width="0.9"/>
<line x1="402.30" y1="5.80" x2="406.10" y2="5.80" stroke="#222" stroke-width="1.2"/>
<line x1="402.30" y1="85.30" x2="406.10" y2="85.30" stroke="#222" stroke-width="1.2"/>
<line x1="421.59" y1="18.20" x2="421.59" y2="55.30" stroke="#555" stroke-width="0.9"/>
<line x1="421.59" y1="55.30" x2="421.59" y2="92.50" stroke="#080808" stroke-width="0.9"/>
<line x1="419.69" y1="18.20" x2="423.49" y2="18.20" stroke="#222" stroke-width="1.2"/>
<line x1="419.69" y1="92.50" x2="423.49" y2="92.50" stroke="#222" stroke-width="1.2"/>
<line x1="438.98" y1="21.80" x2="438.98" y2="63.60" stroke="#555" stroke-width="0.9"/>
<line x1="438.98" y1="63.60" x2="438.98" y2="105.20" stroke="#080808" stroke-width="0.9"/>
<line x1="437.08" y1="21.80" x2="440.88" y2="21.80" stroke="#222" stroke-width="1.2"/>
<line x1="437.08" y1="105.20" x2="440.88" y2="105.20" stroke="#222" stroke-width="1.2"/>
<line x1="456.37" y1="31.10" x2="456.37" y2="68.20" stroke="#555" stroke-width="0.9"/>
<line x1="456.37" y1="68.20" x2="456.37" y2="105.70" stroke="#080808" stroke-width="0.9"/>
<line x1="454.47" y1="31.10" x2="458.27" y2="31.10" stroke="#222" stroke-width="1.2"/>
<line x1="454.47" y1="105.70" x2="458.27" y2="105.70" stroke="#222" stroke-width="1.2"/>
<line x1="473.76" y1="12.80" x2="473.76" y2="70.90" stroke="#555" stroke-width="0.9"/>
<line x1="473.76" y1="70.90" x2="473.76" y2="122.90" stroke="#080808" stroke-width="0.9"/>
<line x1="473.76" y1="122.90" x2="473.76" y2="128.20" stroke="#555" stroke-width="0.9"/>
<line x1="471.86" y1="12.80" x2="475.66" y2="12.80" stroke="#222" stroke-width="1.2"/>
<line x1="471.86" y1="128.20" x2="475.66" y2="128.20" stroke="#222" stroke-width="1.2"/>
<line x1="491.15" y1="29.60" x2="491.15" y2="73.90" stroke="#555" stroke-width="0.9"/>
<line x1="491.15" y1="73.90" x2="491.15" y2="117.50" stroke="#080808" stroke-width="0.9"/>
<line x1="489.25" y1="29.60" x2="493.05" y2="29.60" stroke="#222" stroke-width="1.2"/>
<line x1="489.25" y1="117.50" x2="493.05" y2="117.50" stroke="#222" stroke-width="1.2"/>
<line x1="508.54" y1="28.00" x2="508.54" y2="75.40" stroke="#555" stroke-width="0.9"/>
<line x1="508.54" y1="75.40" x2="508.54" y2="121.50" stroke="#080808" stroke-width="0.9"/>
<line x1="506.64" y1="28.00" x2="510.44" y2="28.00" stroke="#222" stroke-width="1.2"/>
<line x1="506.64" y1="121.50" x2="510.44" y2="121.50" stroke="#222" stroke-width="1.2"/>
<line x1="525.93" y1="37.70" x2="525.93" y2="76.00" stroke="#555" stroke-width="0.9"/>
<line x1="525.93" y1="76.00" x2="525.93" y2="115.20" stroke="#080808" stroke-width="0.9"/>
<line x1="524.03" y1="37.70" x2="527.83" y2="37.70" stroke="#222" stroke-width="1.2"/>
<line x1="524.03" y1="115.20" x2="527.83" y2="115.20" stroke="#222" stroke-width="1.2"/>
<line x1="543.32" y1="29.40" x2="543.32" y2="76.80" stroke="#555" stroke-width="0.9"/>
<line x1="543.32" y1="76.80" x2="543.32" y2="122.90" stroke="#080808" stroke-width="0.9"/>
<line x1="543.32" y1="122.90" x2="543.32" y2="123.00" stroke="#555" stroke-width="0.9"/>
<line x1="541.42" y1="29.40" x2="545.22" y2="29.40" stroke="#222" stroke-width="1.2"/>
<line x1="541.42" y1="123.00" x2="545.22" y2="123.00" stroke="#222" stroke-width="1.2"/>
<line x1="560.71" y1="30.00" x2="560.71" y2="77.30" stroke="#555" stroke-width="0.9"/>
<line x1="560.71" y1="77.30" x2="560.71" y2="122.90" stroke="#080808" stroke-width="0.9"/>
<line x1="560.71" y1="122.90" x2="560.71" y2="123.00" stroke="#555" stroke-width="0.9"/>
<line x1="558.81" y1="30.00" x2="562.61" y2="30.00" stroke="#222" stroke-width="1.2"/>
<line x1="558.81" y1="123.00" x2="562.61" y2="123.00" stroke="#222" stroke-width="1.2"/>
<line x1="578.10" y1="46.60" x2="578.10" y2="79.90" stroke="#555" stroke-width="0.9"/>
<line x1="578.10" y1="79.90" x2="578.10" y2="112.80" stroke="#080808" stroke-width="0.9"/>
<line x1="576.20" y1="46.60" x2="580.00" y2="46.60" stroke="#222" stroke-width="1.2"/>
<line x1="576.20" y1="112.80" x2="580.00" y2="112.80" stroke="#222" stroke-width="1.2"/>
<line x1="595.49" y1="35.60" x2="595.49" y2="80.30" stroke="#555" stroke-width="0.9"/>
<line x1="595.49" y1="80.30" x2="595.49" y2="122.90" stroke="#080808" stroke-width="0.9"/>
<line x1="595.49" y1="122.90" x2="595.49" y2="124.20" stroke="#555" stroke-width="0.9"/>
<line x1="593.59" y1="35.60" x2="597.39" y2="35.60" stroke="#222" stroke-width="1.2"/>
<line x1="593.59" y1="124.20" x2="597.39" y2="124.20" stroke="#222" stroke-width="1.2"/>
<line x1="612.88" y1="35.80" x2="612.88" y2="82.40" stroke="#555" stroke-width="0.9"/>
<line x1="612.88" y1="82.40" x2="612.88" y2="122.90" stroke="#080808" stroke-width="0.9"/>
<line x1="612.88" y1="122.90" x2="612.88" y2="127.80" stroke="#555" stroke-width="0.9"/>
<line x1="610.98" y1="35.80" x2="614.78" y2="35.80" stroke="#222" stroke-width="1.2"/>
<line x1="610.98" y1="127.80" x2="614.78" y2="127.80" stroke="#222" stroke-width="1.2"/>
<line x1="630.27" y1="50.10" x2="630.27" y2="83.90" stroke="#555" stroke-width="0.9"/>
<line x1="630.27" y1="83.90" x2="630.27" y2="117.40" stroke="#080808" stroke-width="0.9"/>
<line x1="628.37" y1="50.10" x2="632.17" y2="50.10" stroke="#222" stroke-width="1.2"/>
<line x1="628.37" y1="117.40" x2="632.17" y2="117.40" stroke="#222" stroke-width="1.2"/>
<line x1="647.66" y1="77.60" x2="647.66" y2="90.00" stroke="#555" stroke-width="0.9"/>
<line x1="647.66" y1="90.00" x2="647.66" y2="102.40" stroke="#080808" stroke-width="0.9"/>
<line x1="645.76" y1="77.60" x2="649.56" y2="77.60" stroke="#222" stroke-width="1.2"/>
<line x1="645.76" y1="102.40" x2="649.56" y2="102.40" stroke="#222" stroke-width="1.2"/>
<line x1="665.05" y1="66.80" x2="665.05" y2="97.50" stroke="#555" stroke-width="0.9"/>
<line x1="665.05" y1="97.50" x2="665.05" y2="122.90" stroke="#080808" stroke-width="0.9"/>
<line x1="665.05" y1="122.90" x2="665.05" y2="127.80" stroke="#555" stroke-width="0.9"/>
<line x1="663.15" y1="66.80" x2="666.95" y2="66.80" stroke="#222" stroke-width="1.2"/>
<line x1="663.15" y1="127.80" x2="666.95" y2="127.80" stroke="#222" stroke-width="1.2"/>
<line x1="395.60" y1="3.00" x2="395.60" y2="134.80" stroke="#222" stroke-width="1.0"/>
<line x1="393.40" y1="132.90" x2="395.60" y2="132.90" stroke="#222" stroke-width="0.8"/>
<text x="393.80" y="134.50" font-size="4.0" font-weight="bold" text-anchor="end" fill="#333" textLength="6.00" lengthAdjust="spacingAndGlyphs" font-family="'Liberation Sans', sans-serif">-0.2</text>
<line x1="394.30" y1="127.90" x2="395.60" y2="127.90" stroke="#222" stroke-width="0.8"/>
<line x1="393.40" y1="122.90" x2="395.60" y2="122.90" stroke="#222" stroke-width="0.8"/>
<text x="393.80" y="124.50" font-size="4.0" font-weight="bold" text-anchor="end" fill="#333" textLength="4.60" lengthAdjust="spacingAndGlyphs" font-family="'Liberation Sans', sans-serif">0.0</text>
<line x1="394.30" y1="117.90" x2="395.60" y2="117.90" stroke="#222" stroke-width="0.8"/>
<line x1="393.40" y1="112.90" x2="395.60" y2="112.90" stroke="#222" stroke-width="0.8"/>
<text x="393.80" y="114.50" font-size="4.0" font-weight="bold" text-anchor="end" fill="#333" textLength="4.60" lengthAdjust="spacingAndGlyphs" font-family="'Liberation Sans', sans-serif">0.2</text>
<line x1="394.30" y1="107.90" x2="395.60" y2="107.90" stroke="#222" stroke-width="0.8"/>
<line x1="393.40" y1="102.90" x2="395.60" y2="102.90" stroke="#222" stroke-width="0.8"/>
<text x="393.80" y="104.50" font-size="4.0" font-weight="bold" text-anchor="end" fill="#333" textLength="4.60" lengthAdjust="spacingAndGlyphs" font-family="'Liberation Sans', sans-serif">0.4</text>
<line x1="394.30" y1="97.90" x2="395.60" y2="97.90" stroke="#222" stroke-width="0.8"/>
<line x1="393.40" y1="92.90" x2="395.60" y2="92.90" stroke="#222" stroke-width="0.8"/>
<text x="393.80" y="94.50" font-size="4.0" font-weight="bold" text-anchor="end" fill="#333" textLength="4.60" lengthAdjust="spacingAndGlyphs" font-family="'Liberation Sans', sans-serif">0.6</text>
<line x1="394.30" y1="87.90" x2="395.60" y2="87.90" stroke="#222" stroke-width="0.8"/>
<line x1="393.40" y1="82.90" x2="395.60" y2="82.90" stroke="#222" stroke-width="0.8"/>
<text x="393.80" y="84.50" font-size="4.0" font-weight="bold" text-anchor="end" fill="#333" textLength="4.60" lengthAdjust="spacingAndGlyphs" font-family="'Liberation Sans', sans-serif">0.8</text>
<line x1="394.30" y1="77.90" x2="395.60" y2="77.90" stroke="#222" stroke-width="0.8"/>
<line x1="393.40" y1="72.90" x2="395.60" y2="72.90" stroke="#222" stroke-width="0.8"/>
<text x="393.80" y="74.50" font-size="4.0" font-weight="bold" text-anchor="end" fill="#333" textLength="4.60" lengthAdjust="spacingAndGlyphs" font-family="'Liberation Sans', sans-serif">1.0</text>
<line x1="394.30" y1="67.90" x2="395.60" y2="67.90" stroke="#222" stroke-width="0.8"/>
<line x1="393.40" y1="62.90" x2="395.60" y2="62.90" stroke="#222" stroke-width="0.8"/>
<text x="393.80" y="64.50" font-size="4.0" font-weight="bold" text-anchor="end" fill="#333" textLength="4.60" lengthAdjust="spacingAndGlyphs" font-family="'Liberation Sans', sans-serif">1.2</text>
<line x1="394.30" y1="57.90" x2="395.60" y2="57.90" stroke="#222" stroke-width="0.8"/>
<line x1="393.40" y1="52.90" x2="395.60" y2="52.90" stroke="#222" stroke-width="0.8"/>
<text x="393.80" y="54.50" font-size="4.0" font-weight="bold" text-anchor="end" fill="#333" textLength="4.60" lengthAdjust="spacingAndGlyphs" font-family="'Liberation Sans', sans-serif">1.4</text>
<line x1="394.30" y1="47.90" x2="395.60" y2="47.90" stroke="#222" stroke-width="0.8"/>
<line x1="393.40" y1="42.90" x2="395.60" y2="42.90" stroke="#222" stroke-width="0.8"/>
<text x="393.80" y="44.50" font-size="4.0" font-weight="bold" text-anchor="end" fill="#333" textLength="4.60" lengthAdjust="spacingAndGlyphs" font-family="'Liberation Sans', sans-serif">1.6</text>
<line x1="394.30" y1="37.90" x2="395.60" y2="37.90" stroke="#222" stroke-width="0.8"/>
<line x1="393.40" y1="32.90" x2="395.60" y2="32.90" stroke="#222" stroke-width="0.8"/>
<text x="393.80" y="34.50" font-size="4.0" font-weight="bold" text-anchor="end" fill="#333" textLength="4.60" lengthAdjust="spacingAndGlyphs" font-family="'Liberation Sans', sans-serif">1.8</text>
<line x1="394.30" y1="27.90" x2="395.60" y2="27.90" stroke="#222" stroke-width="0.8"/>
<line x1="393.40" y1="22.90" x2="395.60" y2="22.90" stroke="#222" stroke-width="0.8"/>
<text x="393.80" y="24.50" font-size="4.0" font-weight="bold" text-anchor="end" fill="#333" textLength="4.60" lengthAdjust="spacingAndGlyphs" font-family="'Liberation Sans', sans-serif">2.0</text>
<line x1="394.30" y1="17.90" x2="395.60" y2="17.90" stroke="#222" stroke-width="0.8"/>
<line x1="393.40" y1="12.90" x2="395.60" y2="12.90" stroke="#222" stroke-width="0.8"/>
<text x="393.80" y="14.50" font-size="4.0" font-weight="bold" text-anchor="end" fill="#333" textLength="4.60" lengthAdjust="spacingAndGlyphs" font-family="'Liberation Sans', sans-serif">2.2</text>
<line x1="394.30" y1="7.90" x2="395.60" y2="7.90" stroke="#222" stroke-width="0.8"/>
<line x1="393.40" y1="2.90" x2="395.60" y2="2.90" stroke="#222" stroke-width="0.8"/>
<text x="393.80" y="4.50" font-size="4.0" font-weight="bold" text-anchor="end" fill="#333" textLength="4.60" lengthAdjust="spacingAndGlyphs" font-family="'Liberation Sans', sans-serif">2.4</text>
<line x1="395.60" y1="134.80" x2="673.50" y2="134.80" stroke="#777" stroke-width="1.2"/>
<line x1="404.20" y1="134.80" x2="404.20" y2="137.00" stroke="#777" stroke-width="0.7"/>
<line x1="421.59" y1="134.80" x2="421.59" y2="137.00" stroke="#777" stroke-width="0.7"/>
<line x1="438.98" y1="134.80" x2="438.98" y2="137.00" stroke="#777" stroke-width="0.7"/>
<line x1="456.37" y1="134.80" x2="456.37" y2="137.00" stroke="#777" stroke-width="0.7"/>
<line x1="473.76" y1="134.80" x2="473.76" y2="137.00" stroke="#777" stroke-width="0.7"/>
<line x1="491.15" y1="134.80" x2="491.15" y2="137.00" stroke="#777" stroke-width="0.7"/>
<line x1="508.54" y1="134.80" x2="508.54" y2="137.00" stroke="#777" stroke-width="0.7"/>
<line x1="525.93" y1="134.80" x2="525.93" y2="137.00" stroke="#777" stroke-width="0.7"/>
<line x1="543.32" y1="134.80" x2="543.32" y2="137.00" stroke="#777" stroke-width="0.7"/>
<line x1="560.71" y1="134.80" x2="560.71" y2="137.00" stroke="#777" stroke-width="0.7"/>
<line x1="578.10" y1="134.80" x2="578.10" y2="137.00" stroke="#777" stroke-width="0.7"/>
<line x1="595.49" y1="134.80" x2="595.49" y2="137.00" stroke="#777" stroke-width="0.7"/>
<line x1="612.88" y1="134.80" x2="612.88" y2="137.00" stroke="#777" stroke-width="0.7"/>
<line x1="630.27" y1="134.80" x2="630.27" y2="137.00" stroke="#777" stroke-width="0.7"/>
<line x1="647.66" y1="134.80" x2="647.66" y2="137.00" stroke="#777" stroke-width="0.7"/>
<line x1="665.05" y1="134.80" x2="665.05" y2="137.00" stroke="#777" stroke-width="0.7"/>
<text x="405.80" y="138.70" font-size="6.3" font-weight="bold" text-anchor="end" fill="#000" transform="rotate(-90 405.80 138.70)">GHDCA</text>
<text x="423.19" y="138.70" font-size="6.3" font-weight="bold" text-anchor="end" fill="#000" transform="rotate(-90 423.19 138.70)">HDCA</text>
<text x="440.58" y="138.70" font-size="6.3" font-weight="bold" text-anchor="end" fill="#000" transform="rotate(-90 440.58 138.70)">TDCA</text>
<text x="457.97" y="138.70" font-size="6.3" font-weight="bold" text-anchor="end" fill="#000" transform="rotate(-90 457.97 138.70)">GCDCA</text>
<text x="475.36" y="138.70" font-size="6.3" font-weight="bold" text-anchor="end" fill="#000" transform="rotate(-90 475.36 138.70)">GDCA</text>
<text x="492.75" y="138.70" font-size="6.3" font-weight="bold" text-anchor="end" fill="#000" transform="rotate(-90 492.75 138.70)">CDCA</text>
<text x="510.14" y="138.70" font-size="6.3" font-weight="bold" text-anchor="end" fill="#000" transform="rotate(-90 510.14 138.70)">TCDCA</text>
<text x="527.53" y="138.70" font-size="6.3" font-weight="bold" text-anchor="end" fill="#000" transform="rotate(-90 527.53 138.70)">&#946;-MCA</text>
<text x="544.92" y="138.70" font-size="6.3" font-weight="bold" text-anchor="end" fill="#000" transform="rotate(-90 544.92 138.70)">T-&#969;-MCA</text>
<text x="562.31" y="138.70" font-size="6.3" font-weight="bold" text-anchor="end" fill="#000" transform="rotate(-90 562.31 138.70)">TCA</text>
<text x="579.70" y="138.70" font-size="6.3" font-weight="bold" text-anchor="end" fill="#000" transform="rotate(-90 579.70 138.70)">GUDCA</text>
<text x="597.09" y="138.70" font-size="6.3" font-weight="bold" text-anchor="end" fill="#000" transform="rotate(-90 597.09 138.70)">CA</text>
<text x="614.48" y="138.70" font-size="6.3" font-weight="bold" text-anchor="end" fill="#000" transform="rotate(-90 614.48 138.70)">GCA</text>
<text x="631.87" y="138.70" font-size="6.3" font-weight="bold" text-anchor="end" fill="#000" transform="rotate(-90 631.87 138.70)">THDCA</text>
<text x="649.26" y="138.70" font-size="6.3" font-weight="bold" text-anchor="end" fill="#000" transform="rotate(-90 649.26 138.70)">UDCA</text>
<text x="666.65" y="138.70" font-size="6.3" font-weight="bold" text-anchor="end" fill="#000" transform="rotate(-90 666.65 138.70)">DCA</text>
<text x="386.90" y="61.00" font-size="6.2" font-weight="bold" text-anchor="middle" fill="#000" transform="rotate(-90 386.90 61.00)" textLength="10.60" lengthAdjust="spacingAndGlyphs">VIP</text>
<line x1="396.90" y1="273.65" x2="639.00" y2="273.65" stroke="#f1f1f1" stroke-width="0.7"/>
<line x1="396.90" y1="263.90" x2="639.00" y2="263.90" stroke="#f1f1f1" stroke-width="0.7"/>
<line x1="396.90" y1="254.15" x2="639.00" y2="254.15" stroke="#f1f1f1" stroke-width="0.7"/>
<line x1="396.90" y1="244.40" x2="639.00" y2="244.40" stroke="#f1f1f1" stroke-width="0.7"/>
<line x1="396.90" y1="234.65" x2="639.00" y2="234.65" stroke="#f1f1f1" stroke-width="0.7"/>
<line x1="396.90" y1="224.90" x2="639.00" y2="224.90" stroke="#f1f1f1" stroke-width="0.7"/>
<line x1="396.90" y1="215.15" x2="639.00" y2="215.15" stroke="#f1f1f1" stroke-width="0.7"/>
<line x1="396.90" y1="205.40" x2="639.00" y2="205.40" stroke="#f1f1f1" stroke-width="0.7"/>
<line x1="396.90" y1="195.65" x2="639.00" y2="195.65" stroke="#f1f1f1" stroke-width="0.7"/>
<rect x="397.80" y="220.40" width="12.80" height="63.00" fill="#02fc0e" stroke="none" stroke-width="0.8"/>
<rect x="415.31" y="226.40" width="12.80" height="57.00" fill="#02fc0e" stroke="none" stroke-width="0.8"/>
<rect x="432.82" y="231.60" width="12.80" height="51.80" fill="#02fc0e" stroke="none" stroke-width="0.8"/>
<rect x="450.33" y="232.00" width="12.80" height="51.40" fill="#02fc0e" stroke="none" stroke-width="0.8"/>
<rect x="467.84" y="234.30" width="12.80" height="49.10" fill="#02fc0e" stroke="none" stroke-width="0.8"/>
<rect x="485.35" y="236.90" width="12.80" height="46.50" fill="#02fc0e" stroke="none" stroke-width="0.8"/>
<rect x="502.86" y="244.40" width="12.80" height="39.00" fill="#02fc0e" stroke="none" stroke-width="0.8"/>
<rect x="520.37" y="254.10" width="12.80" height="29.30" fill="#02fc0e" stroke="none" stroke-width="0.8"/>
<rect x="537.88" y="257.10" width="12.80" height="26.30" fill="#02fc0e" stroke="none" stroke-width="0.8"/>
<rect x="555.39" y="260.80" width="12.80" height="22.60" fill="#02fc0e" stroke="none" stroke-width="0.8"/>
<rect x="572.90" y="262.10" width="12.80" height="21.30" fill="#02fc0e" stroke="none" stroke-width="0.8"/>
<rect x="590.41" y="264.20" width="12.80" height="19.20" fill="#02fc0e" stroke="none" stroke-width="0.8"/>
<rect x="607.92" y="264.50" width="12.80" height="18.90" fill="#02fc0e" stroke="none" stroke-width="0.8"/>
<rect x="625.43" y="280.50" width="12.80" height="2.90" fill="#02fc0e" stroke="none" stroke-width="0.8"/>
<line x1="395.90" y1="283.40" x2="639.30" y2="283.40" stroke="#333" stroke-width="1.0"/>
<line x1="404.20" y1="208.30" x2="404.20" y2="220.40" stroke="#555" stroke-width="0.9"/>
<line x1="404.20" y1="220.40" x2="404.20" y2="232.20" stroke="#222" stroke-width="0.9"/>
<line x1="402.30" y1="208.30" x2="406.10" y2="208.30" stroke="#222" stroke-width="1.2"/>
<line x1="402.30" y1="232.20" x2="406.10" y2="232.20" stroke="#222" stroke-width="1.2"/>
<line x1="421.71" y1="217.30" x2="421.71" y2="226.40" stroke="#555" stroke-width="0.9"/>
<line x1="421.71" y1="226.40" x2="421.71" y2="236.70" stroke="#222" stroke-width="0.9"/>
<line x1="419.81" y1="217.30" x2="423.61" y2="217.30" stroke="#222" stroke-width="1.2"/>
<line x1="419.81" y1="236.70" x2="423.61" y2="236.70" stroke="#222" stroke-width="1.2"/>
<line x1="439.22" y1="206.30" x2="439.22" y2="231.60" stroke="#555" stroke-width="0.9"/>
<line x1="439.22" y1="231.60" x2="439.22" y2="256.50" stroke="#222" stroke-width="0.9"/>
<line x1="437.32" y1="206.30" x2="441.12" y2="206.30" stroke="#222" stroke-width="1.2"/>
<line x1="437.32" y1="256.50" x2="441.12" y2="256.50" stroke="#222" stroke-width="1.2"/>
<line x1="456.73" y1="220.70" x2="456.73" y2="232.00" stroke="#555" stroke-width="0.9"/>
<line x1="456.73" y1="232.00" x2="456.73" y2="244.10" stroke="#222" stroke-width="0.9"/>
<line x1="454.83" y1="220.70" x2="458.63" y2="220.70" stroke="#222" stroke-width="1.2"/>
<line x1="454.83" y1="244.10" x2="458.63" y2="244.10" stroke="#222" stroke-width="1.2"/>
<line x1="474.24" y1="192.40" x2="474.24" y2="234.30" stroke="#555" stroke-width="0.9"/>
<line x1="474.24" y1="234.30" x2="474.24" y2="276.30" stroke="#222" stroke-width="0.9"/>
<line x1="472.34" y1="192.40" x2="476.14" y2="192.40" stroke="#222" stroke-width="1.2"/>
<line x1="472.34" y1="276.30" x2="476.14" y2="276.30" stroke="#222" stroke-width="1.2"/>
<line x1="491.75" y1="200.50" x2="491.75" y2="236.90" stroke="#555" stroke-width="0.9"/>
<line x1="491.75" y1="236.90" x2="491.75" y2="273.70" stroke="#222" stroke-width="0.9"/>
<line x1="489.85" y1="200.50" x2="493.65" y2="200.50" stroke="#222" stroke-width="1.2"/>
<line x1="489.85" y1="273.70" x2="493.65" y2="273.70" stroke="#222" stroke-width="1.2"/>
<line x1="509.26" y1="225.50" x2="509.26" y2="244.40" stroke="#555" stroke-width="0.9"/>
<line x1="509.26" y1="244.40" x2="509.26" y2="263.60" stroke="#222" stroke-width="0.9"/>
<line x1="507.36" y1="225.50" x2="511.16" y2="225.50" stroke="#222" stroke-width="1.2"/>
<line x1="507.36" y1="263.60" x2="511.16" y2="263.60" stroke="#222" stroke-width="1.2"/>
<line x1="526.77" y1="241.80" x2="526.77" y2="254.10" stroke="#555" stroke-width="0.9"/>
<line x1="526.77" y1="254.10" x2="526.77" y2="266.80" stroke="#222" stroke-width="0.9"/>
<line x1="524.87" y1="241.80" x2="528.67" y2="241.80" stroke="#222" stroke-width="1.2"/>
<line x1="524.87" y1="266.80" x2="528.67" y2="266.80" stroke="#222" stroke-width="1.2"/>
<line x1="544.28" y1="227.80" x2="544.28" y2="257.10" stroke="#555" stroke-width="0.9"/>
<line x1="544.28" y1="257.10" x2="544.28" y2="283.40" stroke="#222" stroke-width="0.9"/>
<line x1="544.28" y1="283.40" x2="544.28" y2="286.70" stroke="#555" stroke-width="0.9"/>
<line x1="542.38" y1="227.80" x2="546.18" y2="227.80" stroke="#222" stroke-width="1.2"/>
<line x1="542.38" y1="286.70" x2="546.18" y2="286.70" stroke="#222" stroke-width="1.2"/>
<line x1="561.79" y1="242.10" x2="561.79" y2="260.80" stroke="#555" stroke-width="0.9"/>
<line x1="561.79" y1="260.80" x2="561.79" y2="280.00" stroke="#222" stroke-width="0.9"/>
<line x1="559.89" y1="242.10" x2="563.69" y2="242.10" stroke="#222" stroke-width="1.2"/>
<line x1="559.89" y1="280.00" x2="563.69" y2="280.00" stroke="#222" stroke-width="1.2"/>
<line x1="579.30" y1="240.80" x2="579.30" y2="262.10" stroke="#555" stroke-width="0.9"/>
<line x1="579.30" y1="262.10" x2="579.30" y2="283.00" stroke="#222" stroke-width="0.9"/>
<line x1="577.40" y1="240.80" x2="581.20" y2="240.80" stroke="#222" stroke-width="1.2"/>
<line x1="577.40" y1="283.00" x2="581.20" y2="283.00" stroke="#222" stroke-width="1.2"/>
<line x1="596.81" y1="233.30" x2="596.81" y2="264.20" stroke="#555" stroke-width="0.9"/>
<line x1="596.81" y1="264.20" x2="596.81" y2="283.40" stroke="#222" stroke-width="0.9"/>
<line x1="596.81" y1="283.40" x2="596.81" y2="294.60" stroke="#555" stroke-width="0.9"/>
<line x1="594.91" y1="233.30" x2="598.71" y2="233.30" stroke="#222" stroke-width="1.2"/>
<line x1="594.91" y1="294.60" x2="598.71" y2="294.60" stroke="#222" stroke-width="1.2"/>
<line x1="614.32" y1="228.80" x2="614.32" y2="264.50" stroke="#555" stroke-width="0.9"/>
<line x1="614.32" y1="264.50" x2="614.32" y2="283.40" stroke="#222" stroke-width="0.9"/>
<line x1="614.32" y1="283.40" x2="614.32" y2="300.00" stroke="#555" stroke-width="0.9"/>
<line x1="612.42" y1="228.80" x2="616.22" y2="228.80" stroke="#222" stroke-width="1.2"/>
<line x1="612.42" y1="300.00" x2="616.22" y2="300.00" stroke="#222" stroke-width="1.2"/>
<line x1="631.83" y1="258.10" x2="631.83" y2="280.50" stroke="#555" stroke-width="0.9"/>
<line x1="631.83" y1="280.50" x2="631.83" y2="283.40" stroke="#222" stroke-width="0.9"/>
<line x1="631.83" y1="283.40" x2="631.83" y2="302.10" stroke="#555" stroke-width="0.9"/>
<line x1="629.93" y1="258.10" x2="633.73" y2="258.10" stroke="#222" stroke-width="1.2"/>
<line x1="629.93" y1="302.10" x2="633.73" y2="302.10" stroke="#222" stroke-width="1.2"/>
<line x1="395.90" y1="190.70" x2="395.90" y2="304.50" stroke="#222" stroke-width="1.0"/>
<line x1="393.70" y1="302.90" x2="395.90" y2="302.90" stroke="#222" stroke-width="0.8"/>
<text x="394.10" y="304.50" font-size="4.0" font-weight="bold" text-anchor="end" fill="#333" textLength="6.00" lengthAdjust="spacingAndGlyphs" font-family="'Liberation Sans', sans-serif">-0.5</text>
<line x1="394.60" y1="299.00" x2="395.90" y2="299.00" stroke="#222" stroke-width="0.8"/>
<line x1="394.60" y1="295.10" x2="395.90" y2="295.10" stroke="#222" stroke-width="0.8"/>
<line x1="394.60" y1="291.20" x2="395.90" y2="291.20" stroke="#222" stroke-width="0.8"/>
<line x1="394.60" y1="287.30" x2="395.90" y2="287.30" stroke="#222" stroke-width="0.8"/>
<line x1="393.70" y1="283.40" x2="395.90" y2="283.40" stroke="#222" stroke-width="0.8"/>
<text x="394.10" y="285.00" font-size="4.0" font-weight="bold" text-anchor="end" fill="#333" textLength="6.00" lengthAdjust="spacingAndGlyphs" font-family="'Liberation Sans', sans-serif">-0.0</text>
<line x1="394.60" y1="279.50" x2="395.90" y2="279.50" stroke="#222" stroke-width="0.8"/>
<line x1="394.60" y1="275.60" x2="395.90" y2="275.60" stroke="#222" stroke-width="0.8"/>
<line x1="394.60" y1="271.70" x2="395.90" y2="271.70" stroke="#222" stroke-width="0.8"/>
<line x1="394.60" y1="267.80" x2="395.90" y2="267.80" stroke="#222" stroke-width="0.8"/>
<line x1="393.70" y1="263.90" x2="395.90" y2="263.90" stroke="#222" stroke-width="0.8"/>
<text x="394.10" y="265.50" font-size="4.0" font-weight="bold" text-anchor="end" fill="#333" textLength="4.60" lengthAdjust="spacingAndGlyphs" font-family="'Liberation Sans', sans-serif">0.5</text>
<line x1="394.60" y1="260.00" x2="395.90" y2="260.00" stroke="#222" stroke-width="0.8"/>
<line x1="394.60" y1="256.10" x2="395.90" y2="256.10" stroke="#222" stroke-width="0.8"/>
<line x1="394.60" y1="252.20" x2="395.90" y2="252.20" stroke="#222" stroke-width="0.8"/>
<line x1="394.60" y1="248.30" x2="395.90" y2="248.30" stroke="#222" stroke-width="0.8"/>
<line x1="393.70" y1="244.40" x2="395.90" y2="244.40" stroke="#222" stroke-width="0.8"/>
<text x="394.10" y="246.00" font-size="4.0" font-weight="bold" text-anchor="end" fill="#333" textLength="4.60" lengthAdjust="spacingAndGlyphs" font-family="'Liberation Sans', sans-serif">1.0</text>
<line x1="394.60" y1="240.50" x2="395.90" y2="240.50" stroke="#222" stroke-width="0.8"/>
<line x1="394.60" y1="236.60" x2="395.90" y2="236.60" stroke="#222" stroke-width="0.8"/>
<line x1="394.60" y1="232.70" x2="395.90" y2="232.70" stroke="#222" stroke-width="0.8"/>
<line x1="394.60" y1="228.80" x2="395.90" y2="228.80" stroke="#222" stroke-width="0.8"/>
<line x1="393.70" y1="224.90" x2="395.90" y2="224.90" stroke="#222" stroke-width="0.8"/>
<text x="394.10" y="226.50" font-size="4.0" font-weight="bold" text-anchor="end" fill="#333" textLength="4.60" lengthAdjust="spacingAndGlyphs" font-family="'Liberation Sans', sans-serif">1.5</text>
<line x1="394.60" y1="221.00" x2="395.90" y2="221.00" stroke="#222" stroke-width="0.8"/>
<line x1="394.60" y1="217.10" x2="395.90" y2="217.10" stroke="#222" stroke-width="0.8"/>
<line x1="394.60" y1="213.20" x2="395.90" y2="213.20" stroke="#222" stroke-width="0.8"/>
<line x1="394.60" y1="209.30" x2="395.90" y2="209.30" stroke="#222" stroke-width="0.8"/>
<line x1="393.70" y1="205.40" x2="395.90" y2="205.40" stroke="#222" stroke-width="0.8"/>
<text x="394.10" y="207.00" font-size="4.0" font-weight="bold" text-anchor="end" fill="#333" textLength="4.60" lengthAdjust="spacingAndGlyphs" font-family="'Liberation Sans', sans-serif">2.0</text>
<line x1="394.60" y1="201.50" x2="395.90" y2="201.50" stroke="#222" stroke-width="0.8"/>
<line x1="394.60" y1="197.60" x2="395.90" y2="197.60" stroke="#222" stroke-width="0.8"/>
<line x1="394.60" y1="193.70" x2="395.90" y2="193.70" stroke="#222" stroke-width="0.8"/>
<line x1="398.00" y1="304.00" x2="640.60" y2="304.00" stroke="#777" stroke-width="1.2"/>
<line x1="404.20" y1="304.00" x2="404.20" y2="306.20" stroke="#777" stroke-width="0.7"/>
<line x1="421.71" y1="304.00" x2="421.71" y2="306.20" stroke="#777" stroke-width="0.7"/>
<line x1="439.22" y1="304.00" x2="439.22" y2="306.20" stroke="#777" stroke-width="0.7"/>
<line x1="456.73" y1="304.00" x2="456.73" y2="306.20" stroke="#777" stroke-width="0.7"/>
<line x1="474.24" y1="304.00" x2="474.24" y2="306.20" stroke="#777" stroke-width="0.7"/>
<line x1="491.75" y1="304.00" x2="491.75" y2="306.20" stroke="#777" stroke-width="0.7"/>
<line x1="509.26" y1="304.00" x2="509.26" y2="306.20" stroke="#777" stroke-width="0.7"/>
<line x1="526.77" y1="304.00" x2="526.77" y2="306.20" stroke="#777" stroke-width="0.7"/>
<line x1="544.28" y1="304.00" x2="544.28" y2="306.20" stroke="#777" stroke-width="0.7"/>
<line x1="561.79" y1="304.00" x2="561.79" y2="306.20" stroke="#777" stroke-width="0.7"/>
<line x1="579.30" y1="304.00" x2="579.30" y2="306.20" stroke="#777" stroke-width="0.7"/>
<line x1="596.81" y1="304.00" x2="596.81" y2="306.20" stroke="#777" stroke-width="0.7"/>
<line x1="614.32" y1="304.00" x2="614.32" y2="306.20" stroke="#777" stroke-width="0.7"/>
<line x1="631.83" y1="304.00" x2="631.83" y2="306.20" stroke="#777" stroke-width="0.7"/>
<text x="405.70" y="309.60" font-size="6.3" font-weight="bold" text-anchor="end" fill="#000" transform="rotate(-90 405.70 309.60)">T-&#969;-MCA</text>
<text x="423.21" y="309.60" font-size="6.3" font-weight="bold" text-anchor="end" fill="#000" transform="rotate(-90 423.21 309.60)">TCA</text>
<text x="440.72" y="309.60" font-size="6.3" font-weight="bold" text-anchor="end" fill="#000" transform="rotate(-90 440.72 309.60)">HDCA</text>
<text x="458.23" y="309.60" font-size="6.3" font-weight="bold" text-anchor="end" fill="#000" transform="rotate(-90 458.23 309.60)">TCDCA</text>
<text x="475.74" y="309.60" font-size="6.3" font-weight="bold" text-anchor="end" fill="#000" transform="rotate(-90 475.74 309.60)">THDCA</text>
<text x="493.25" y="309.60" font-size="6.3" font-weight="bold" text-anchor="end" fill="#000" transform="rotate(-90 493.25 309.60)">GCA</text>
<text x="510.76" y="309.60" font-size="6.3" font-weight="bold" text-anchor="end" fill="#000" transform="rotate(-90 510.76 309.60)">TDCA</text>
<text x="528.27" y="309.60" font-size="6.3" font-weight="bold" text-anchor="end" fill="#000" transform="rotate(-90 528.27 309.60)">GHDCA</text>
<text x="545.78" y="309.60" font-size="6.3" font-weight="bold" text-anchor="end" fill="#000" transform="rotate(-90 545.78 309.60)">GDCA</text>
<text x="563.29" y="309.60" font-size="6.3" font-weight="bold" text-anchor="end" fill="#000" transform="rotate(-90 563.29 309.60)">GUDCA</text>
<text x="580.80" y="309.60" font-size="6.3" font-weight="bold" text-anchor="end" fill="#000" transform="rotate(-90 580.80 309.60)">CDCA</text>
<text x="598.31" y="309.60" font-size="6.3" font-weight="bold" text-anchor="end" fill="#000" transform="rotate(-90 598.31 309.60)">GCDCA</text>
<text x="615.82" y="309.60" font-size="6.3" font-weight="bold" text-anchor="end" fill="#000" transform="rotate(-90 615.82 309.60)">CA</text>
<text x="633.33" y="309.60" font-size="6.3" font-weight="bold" text-anchor="end" fill="#000" transform="rotate(-90 633.33 309.60)">&#946;-MCA</text>
<text x="386.00" y="231.00" font-size="6.2" font-weight="bold" text-anchor="middle" fill="#000" transform="rotate(-90 386.00 231.00)" textLength="10.60" lengthAdjust="spacingAndGlyphs">VIP</text>
</svg>
</body></html>
